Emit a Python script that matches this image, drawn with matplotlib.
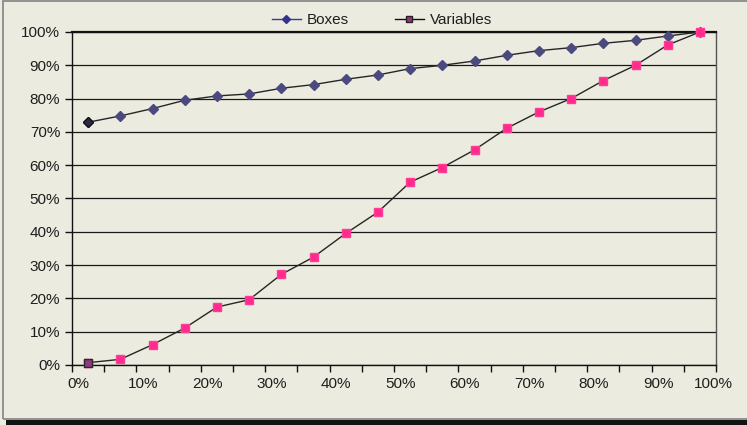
import matplotlib
matplotlib.use("Agg")
import matplotlib.pyplot as plt
import matplotlib.transforms as mtransforms
from matplotlib.patches import Rectangle
from matplotlib.lines import Line2D

plt.rcParams['font.family'] = ['Liberation Sans', 'DejaVu Sans']

# Share of cases (x, midpoint of each 5% bin) vs cumulative share (y)
share = [2.5, 7.5, 12.5, 17.5, 22.5, 27.5, 32.5, 37.5, 42.5, 47.5,
         52.5, 57.5, 62.5, 67.5, 72.5, 77.5, 82.5, 87.5, 92.5, 97.5]
boxes = [72.9, 74.8, 77.0, 79.5, 80.8, 81.4, 83.1, 84.2, 85.8, 87.1,
         89.0, 90.0, 91.3, 93.0, 94.4, 95.3, 96.6, 97.5, 98.8, 100.0]
variables = [0.7, 1.7, 6.1, 11.1, 17.4, 19.6, 27.2, 32.4, 39.5, 45.9,
             54.9, 59.3, 64.6, 71.1, 76.0, 80.0, 85.4, 90.0, 96.1, 100.0]

x_ticks = [0, 10, 20, 30, 40, 50, 60, 70, 80, 90, 100]
x_labels = ['0%', '10%', '20%', '30%', '40%', '50%', '60%', '70%', '80%', '90%', '100%']
y_ticks = [0, 10, 20, 30, 40, 50, 60, 70, 80, 90, 100]
y_labels = ['0%', '10%', '20%', '30%', '40%', '50%', '60%', '70%', '80%', '90%', '100%']
series_names = ['Boxes', 'Variables']

BG = '#EBEBDF'
TXT = '#1e1e1e'
W, H = 747, 425

fig = plt.figure(figsize=(W / 100, H / 100), dpi=100, facecolor=BG)

# outer frame and drop shadow
fig.add_artist(Rectangle((6 / W, 0), 1, 5 / H, transform=fig.transFigure,
                         facecolor='#121212', edgecolor='none', zorder=0))
fig.add_artist(Rectangle((2.5 / W, 1 - 419 / H), (770 - 2.5) / W, (419 - 1) / H,
                         transform=fig.transFigure, fill=False,
                         edgecolor='#8a8a8a', lw=1.3, zorder=1))

ax = fig.add_axes([72 / W, 1 - 365 / H, (716 - 72) / W, (365 - 32) / H])
ax.set_facecolor(BG)
ax.set_xlim(0, 100)
ax.set_ylim(0, 100)

ax.set_axisbelow(True)
ax.yaxis.grid(True, color='#1a1a1a', lw=0.9)

for side in ['left', 'bottom']:
    ax.spines[side].set_color('#111111')
    ax.spines[side].set_linewidth(1.0)
ax.spines['top'].set_color('#111111')
ax.spines['top'].set_linewidth(1.6)
ax.spines['right'].set_color('#555555')
ax.spines['right'].set_linewidth(1.0)

ax.set_xticks(x_ticks)
ax.set_xticklabels(x_labels)
ax.set_xticks([5, 15, 25, 35, 45, 55, 65, 75, 85, 95], minor=True)
ax.set_yticks(y_ticks)
ax.set_yticklabels(y_labels)
ax.tick_params(axis='both', which='both', direction='out', length=5, width=1,
               color='#111111', labelsize=11, labelcolor=TXT)
ax.tick_params(axis='x', which='major', pad=4)
ax.tick_params(axis='y', which='major', pad=3.5)

# category-style label placement: labels sit a little right of their ticks
for i, lab in enumerate(ax.xaxis.get_majorticklabels()):
    dx = -3 if i == len(x_ticks) - 1 else 6.5
    lab.set_transform(lab.get_transform() +
                      mtransforms.ScaledTranslation(dx / 100, 0, fig.dpi_scale_trans))

line_col = '#262626'
ax.plot(share, boxes, color=line_col, lw=1.0, marker='D', ms=5.5,
        mfc='#4B4A7E', mec='#4B4A7E', zorder=3, clip_on=False)
ax.plot(share[:1], boxes[:1], ls='none', marker='D', ms=5.5,
        mfc='#2E2C44', mec='#111111', zorder=4, clip_on=False)
ax.plot(share, variables, color=line_col, lw=1.0, marker='s', ms=6,
        mfc='#FF2A8C', mec='#FF3C96', zorder=3, clip_on=False)
ax.plot(share[:1], variables[:1], ls='none', marker='s', ms=5.5,
        mfc='#8E3A80', mec='#2a2a2a', zorder=4, clip_on=False)

handles = [
    Line2D([], [], color='#3a3a96', lw=1.0, marker='D', ms=4.5,
           mfc='#333388', mec='#333388'),
    Line2D([], [], color='#111111', lw=1.0, marker='s', ms=4.5,
           mfc='#993377', mec='#222222'),
]
fig.legend(handles, series_names, loc='center',
           bbox_to_anchor=(382 / W, 1 - 20.5 / H), ncol=2, frameon=False,
           fontsize=11, handlelength=1.9, handletextpad=0.4,
           columnspacing=3.0, labelcolor=TXT)

fig.savefig('out.png', dpi=100, facecolor=BG)
